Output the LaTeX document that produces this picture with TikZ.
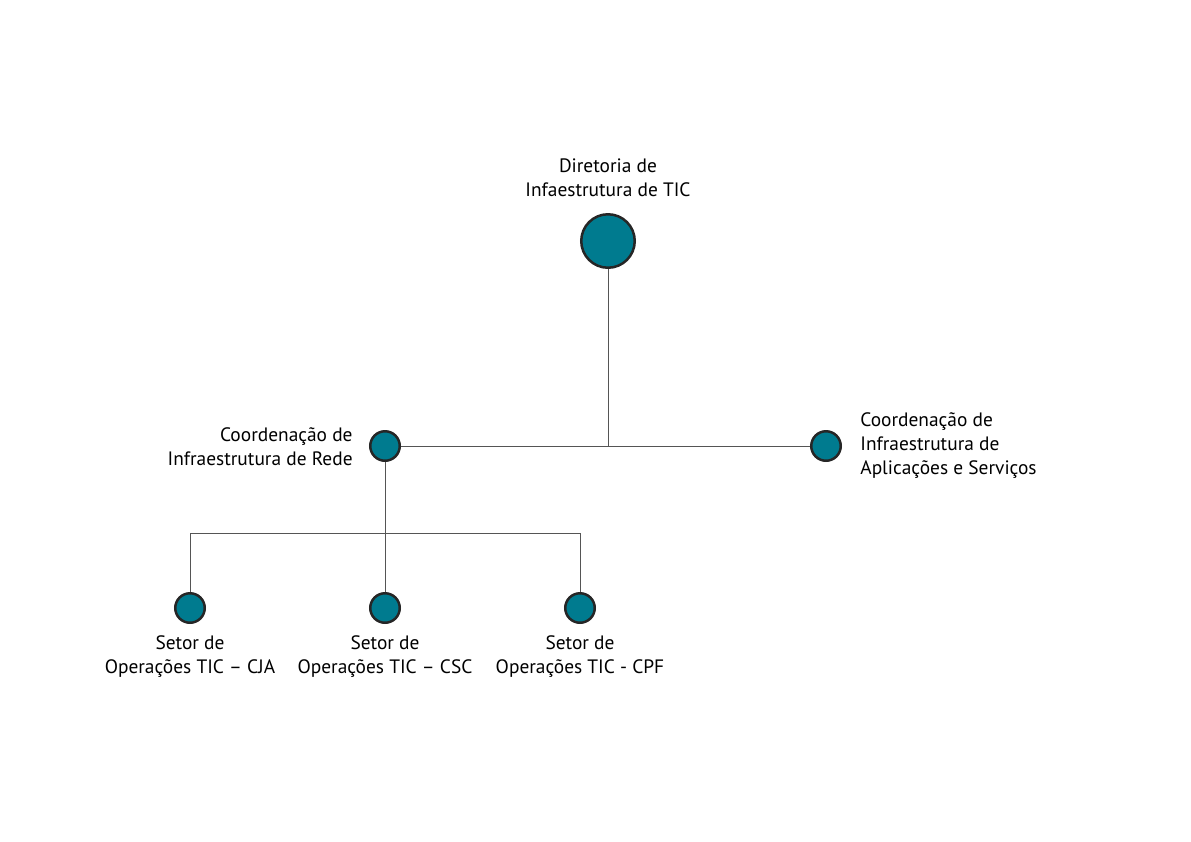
\documentclass[tikz,border=0pt]{standalone}
\usepackage{fontspec}
\setmainfont{PT Sans}
\usetikzlibrary{positioning}
\definecolor{tealfill}{RGB}{0,123,143}
\definecolor{linegray}{RGB}{85,85,85}
\tikzset{
  unit/.style={circle,fill=tealfill,draw=black!85,line width=1.25pt,inner sep=0pt},
  bigunit/.style={unit,minimum size=26.75pt},
  smallunit/.style={unit,minimum size=14.75pt},
  link/.style={draw=linegray,line width=0.5pt},
  lbl/.style={font=\fontsize{9.7}{12}\selectfont,align=center,inner sep=0pt}
}
\begin{document}
\begin{tikzpicture}[x=0.5pt,y=-0.5pt]
\useasboundingbox (0,0) rectangle (1191,842);
\coordinate (j1) at (608,446);
\coordinate (j2) at (385,533);
\coordinate (jl) at (190,533);
\coordinate (jr) at (580,533);
\node[bigunit] (dir) at (608,241) {};
\node[smallunit] (cir) at (385,446) {};
\node[smallunit] (cais) at (826,446) {};
\node[smallunit] (cja) at (190,608) {};
\node[smallunit] (csc) at (385,608) {};
\node[smallunit] (cpf) at (580,608) {};
\path[link] (dir) -- (j1);
\path[link] (cir) -- (cais);
\path[link] (cir) -- (j2);
\path[link] (jl) -- (jr);
\path[link] (jl) -- (cja);
\path[link] (j2) -- (csc);
\path[link] (jr) -- (cpf);
\node[lbl] (dirlbl) at (608,178) {Diretoria de\\Infaestrutura de TIC};
\node[lbl,align=right,anchor=east] (cirlbl) at (353,447) {Coordenação de\\Infraestrutura de Rede};
\node[lbl,align=left,anchor=west] (caislbl) at (860,446) {Coordenação de\\Infraestrutura de\\Aplicações e Serviços};
\node[lbl] (cjalbl) at (190,657) {Setor de\\Operações TIC – CJA};
\node[lbl] (csclbl) at (385,657) {Setor de\\Operações TIC – CSC};
\node[lbl] (cpflbl) at (580,657) {Setor de\\Operações TIC - CPF};
\end{tikzpicture}
\end{document}
